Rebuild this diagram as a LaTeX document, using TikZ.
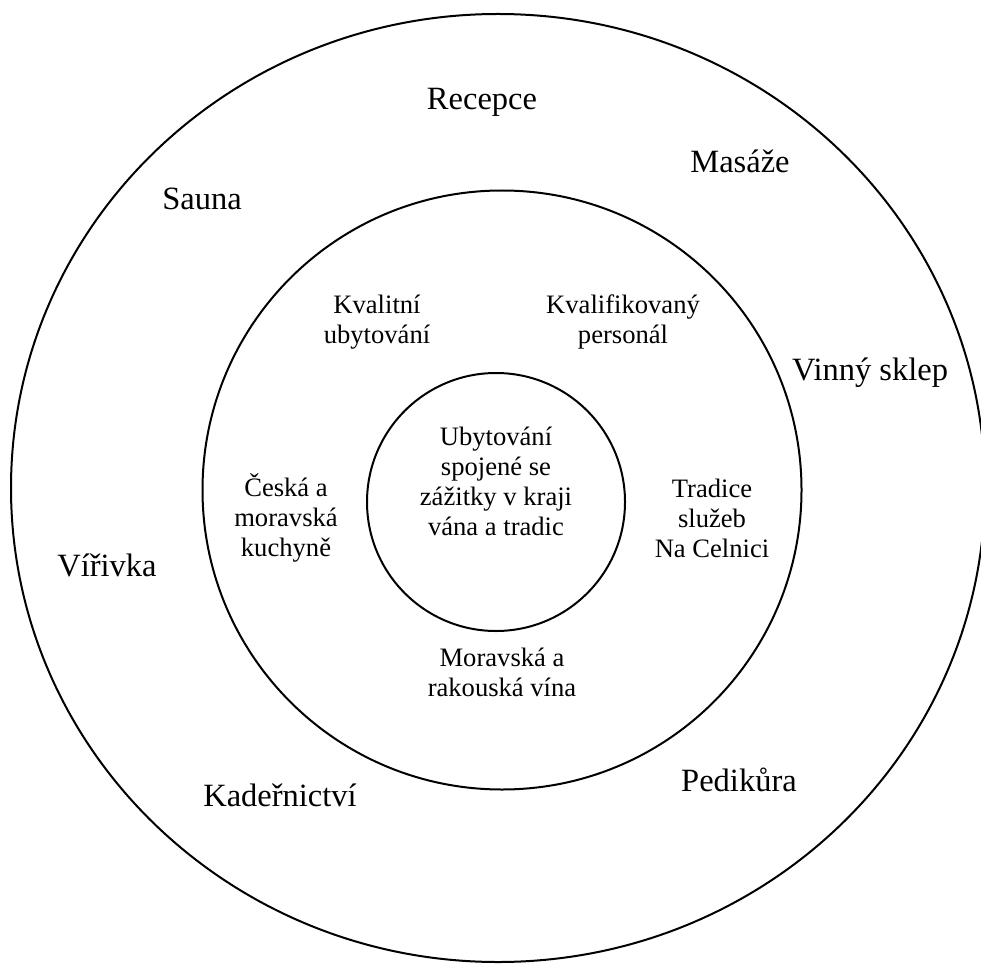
\documentclass[tikz,border=0pt]{standalone}
\usepackage{fontspec}
\setmainfont{Liberation Serif}
\begin{document}
\begin{tikzpicture}[x=1pt,y=-1pt,
  ring/.style={draw,line width=2pt},
  service/.style={font=\fontsize{32.5}{36}\selectfont},
  value/.style={align=center,font=\fontsize{26.6}{30}\selectfont}]
\useasboundingbox (0,0) rectangle (981,965);
% rings
\draw [ring] (498,488) ellipse [x radius=487,y radius=474];
\draw [ring] (502,490) circle [radius=299.5];
\draw [ring] (496,502) circle [radius=129];
% core
\node [value] (core) at (496,481) {Ubytování\\spojené se\\zážitky v kraji\\vána a tradic};
% middle ring
\node [value] (quality) at (377,322) {Kvalitní\\ubytování};
\node [value] (staff) at (623,322) {Kvalifikovaný\\personál};
\node [value] (cuisine) at (286,518) {Česká a\\moravská\\kuchyně};
\node [value] (tradition) at (712,518) {Tradice\\služeb\\Na Celnici};
\node [value] (wines) at (502,672) {Moravská a\\rakouská vína};
% outer ring
\node [service] (reception) at (482,102) {Recepce};
\node [service] (massage) at (740,161) {Masáže};
\node [service] (sauna) at (202,199) {Sauna};
\node [service] (cellar) at (870,373) {Vinný sklep};
\node [service] (whirlpool) at (107,565) {Vířivka};
\node [service] (hair) at (280,795) {Kadeřnictví};
\node [service] (pedicure) at (739,780) {Pedikůra};
\end{tikzpicture}
\end{document}
